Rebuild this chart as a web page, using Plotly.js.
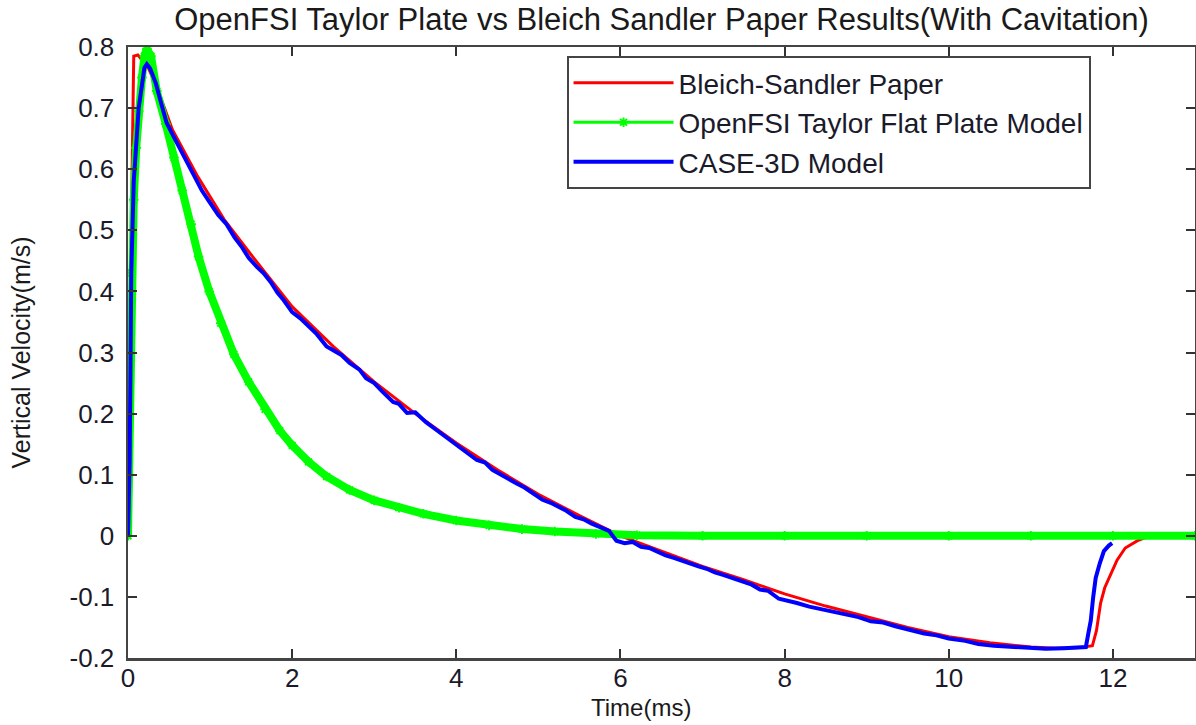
<!DOCTYPE html>
<html>
<head>
<meta charset="utf-8">
<script src="https://cdn.plot.ly/plotly-3.0.1.min.js"></script>
<style>html,body{margin:0;padding:0;background:#fff;}#chart{width:1196px;height:725px;}</style>
</head>
<body>
<div id="chart"></div>
<script>
// ---- data ----
const seriesNames = ["Bleich-Sandler Paper", "OpenFSI Taylor Flat Plate Model", "CASE-3D Model"];

const paperTime = [0, 0.03, 0.05, 0.07, 0.12, 0.18, 0.25, 0.35, 0.54, 0.84, 1.17, 1.5, 1.75, 2.0, 2.5, 3.0, 3.5, 4.0, 4.5, 5.0, 5.5, 6.0, 6.5, 7.0, 7.5, 8.0, 8.5, 9.0, 9.5, 10.0, 10.5, 11.0, 11.3, 11.6, 11.75, 11.8, 11.85, 11.9, 11.97, 12.05, 12.15, 12.3, 12.45];
const paperVel  = [0, 0.25, 0.6, 0.785, 0.787, 0.777, 0.765, 0.735, 0.665, 0.59, 0.518, 0.46, 0.417, 0.375, 0.31, 0.252, 0.2, 0.152, 0.108, 0.068, 0.033, 0.0, -0.025, -0.05, -0.072, -0.095, -0.115, -0.133, -0.15, -0.165, -0.175, -0.182, -0.184, -0.183, -0.18, -0.155, -0.11, -0.085, -0.065, -0.04, -0.02, -0.008, 0];

const openfsiTime = [0, 0.01, 0.02, 0.04, 0.07, 0.1, 0.13, 0.17, 0.2, 0.23, 0.28, 0.35, 0.46, 0.56, 0.66, 0.77, 0.86, 0.99, 1.13, 1.29, 1.47, 1.67, 1.85, 2.0, 2.2, 2.42, 2.7, 3.0, 3.3, 3.6, 4.0, 4.4, 4.8, 5.2, 5.7, 6.2, 7, 8, 9, 10, 11, 12, 13];
const openfsiVel  = [0, 0.1, 0.28, 0.43, 0.55, 0.635, 0.695, 0.75, 0.785, 0.797, 0.785, 0.728, 0.674, 0.619, 0.565, 0.51, 0.457, 0.40, 0.348, 0.297, 0.252, 0.207, 0.172, 0.148, 0.121, 0.097, 0.075, 0.058, 0.046, 0.036, 0.025, 0.017, 0.011, 0.007, 0.003, 0.001, 0, 0, 0, 0, 0, 0, 0];

const caseTime = [0, 0.02, 0.03, 0.04, 0.07, 0.1, 0.13, 0.2, 0.23, 0.27, 0.34, 0.4, 0.47, 0.55, 0.64, 0.72, 0.8, 0.9, 1.0, 1.1, 1.2, 1.3, 1.39, 1.47, 1.57, 1.65, 1.74, 1.82, 1.9, 2.0, 2.1, 2.2, 2.3, 2.42, 2.5, 2.6, 2.7, 2.82, 2.9, 3.0, 3.1, 3.23, 3.3, 3.4, 3.5, 3.63, 3.75, 3.85, 3.95, 4.04, 4.15, 4.25, 4.35, 4.44, 4.53, 4.65, 4.73, 4.83, 4.93, 5.05, 5.15, 5.25, 5.34, 5.45, 5.55, 5.65, 5.75, 5.86, 5.95, 6.05, 6.15, 6.25, 6.35, 6.45, 6.55, 6.65, 6.75, 6.85, 6.95, 7.05, 7.15, 7.25, 7.36, 7.5, 7.6, 7.7, 7.8, 7.93, 8.05, 8.15, 8.3, 8.45, 8.6, 8.75, 8.9, 9.05, 9.2, 9.35, 9.55, 9.7, 9.85, 10.0, 10.2, 10.36, 10.55, 10.75, 10.95, 11.18, 11.4, 11.55, 11.67, 11.7, 11.73, 11.76, 11.79, 11.84, 11.89, 11.95, 11.99];
const caseVel  = [0, 0.12, 0.27, 0.43, 0.58, 0.646, 0.70, 0.766, 0.772, 0.765, 0.74, 0.71, 0.676, 0.655, 0.632, 0.61, 0.588, 0.565, 0.545, 0.525, 0.51, 0.488, 0.472, 0.455, 0.44, 0.43, 0.415, 0.398, 0.385, 0.366, 0.356, 0.342, 0.33, 0.31, 0.304, 0.296, 0.283, 0.272, 0.258, 0.25, 0.236, 0.219, 0.216, 0.201, 0.202, 0.186, 0.174, 0.164, 0.153, 0.146, 0.133, 0.124, 0.12, 0.108, 0.101, 0.093, 0.086, 0.079, 0.07, 0.059, 0.054, 0.047, 0.041, 0.031, 0.027, 0.02, 0.015, 0.008, -0.008, -0.012, -0.01, -0.018, -0.02, -0.026, -0.032, -0.036, -0.041, -0.045, -0.05, -0.054, -0.06, -0.064, -0.069, -0.075, -0.08, -0.088, -0.09, -0.103, -0.106, -0.11, -0.116, -0.12, -0.125, -0.128, -0.133, -0.14, -0.142, -0.148, -0.155, -0.16, -0.163, -0.168, -0.172, -0.177, -0.18, -0.182, -0.184, -0.185, -0.184, -0.183, -0.182, -0.16, -0.139, -0.1, -0.069, -0.045, -0.025, -0.016, -0.012];

const xTickVals = [0, 2, 4, 6, 8, 10, 12];
const xTickLabels = ["0", "2", "4", "6", "8", "10", "12"];
const yTickVals = [-0.2, -0.1, 0, 0.1, 0.2, 0.3, 0.4, 0.5, 0.6, 0.7, 0.8];
const yTickLabels = ["-0.2", "-0.1", "0", "0.1", "0.2", "0.3", "0.4", "0.5", "0.6", "0.7", "0.8"];

const titleText = "OpenFSI Taylor Plate vs Bleich Sandler Paper Results(With Cavitation)";
const xTitle = "Time(ms)";
const yTitle = "Vertical Velocity(m/s)";

// ---- traces ----
const traces = [
  {x: paperTime, y: paperVel, name: seriesNames[0], mode: "lines",
   line: {color: "#ff0000", width: 3}},
  {x: openfsiTime, y: openfsiVel, name: seriesNames[1], mode: "lines", showlegend: false, hoverinfo: "skip",
   line: {color: "#00ff00", width: 8}},
  {x: openfsiTime, y: openfsiVel, name: seriesNames[1], mode: "lines+markers",
   line: {color: "#00ff00", width: 3},
   marker: {symbol: "asterisk-open", size: 8, color: "#00ff00", line: {color: "#00ff00", width: 2}}},
  {x: caseTime, y: caseVel, name: seriesNames[2], mode: "lines",
   line: {color: "#0000ff", width: 4}}
];

const fontFam = "Liberation Sans, Arial, sans-serif";
const axisCommon = {
  showline: true, linecolor: "#444", linewidth: 2.5, mirror: "allticks",
  ticks: "inside", ticklen: 9, tickwidth: 2, tickcolor: "#333",
  showgrid: false, zeroline: false,
  tickfont: {family: fontFam, size: 26, color: "#1a1a2a"}
};

const layout = {
  width: 1196, height: 725,
  paper_bgcolor: "#ffffff", plot_bgcolor: "#ffffff",
  margin: {l: 128, r: 1, t: 47, b: 67},
  title: {text: titleText, font: {family: fontFam, size: 31, color: "#1a1a1a"},
          x: 0.5, xref: "paper", xanchor: "center", y: 0.974, yref: "container", yanchor: "middle"},
  xaxis: Object.assign({}, axisCommon, {
    range: [0, 13], tickvals: xTickVals, ticktext: xTickLabels,
    ticklabelstandoff: -5
  }),
  yaxis: Object.assign({}, axisCommon, {
    range: [-0.2, 0.8], tickvals: yTickVals, ticktext: yTickLabels,
    ticklabelstandoff: 6,
    title: {text: yTitle, font: {family: fontFam, size: 25, color: "#1a1a1a"}, standoff: 32}
  }),
  annotations: [
    {text: xTitle, xref: "paper", yref: "paper", x: 0.481, y: -0.0818, xanchor: "center", yanchor: "middle",
     showarrow: false, font: {family: fontFam, size: 24, color: "#1a1a1a"}}
  ],
  showlegend: true,
  legend: {
    x: 0.411, y: 0.985, xanchor: "left", yanchor: "top",
    bgcolor: "#ffffff", bordercolor: "#444", borderwidth: 2,
    font: {family: fontFam, size: 28, color: "#1a1a2a"},
    itemwidth: 100, tracegroupgap: 0
  }
};

Plotly.newPlot("chart", traces, layout, {displayModeBar: false, staticPlot: true});
</script>
</body>
</html>
